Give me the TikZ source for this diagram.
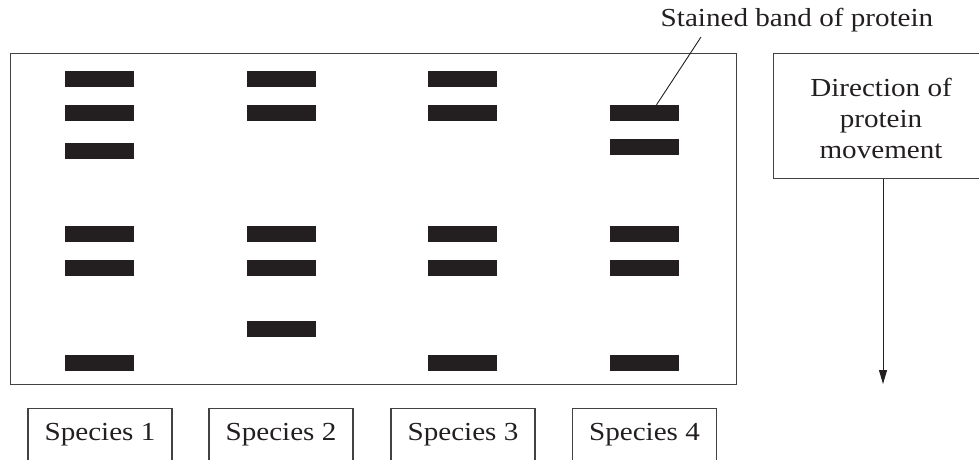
\documentclass[tikz,border=0pt]{standalone}
\usepackage{fontspec}
\setmainfont{Liberation Serif}[FakeStretch=1.12]
\usetikzlibrary{arrows.meta}
\definecolor{ink}{HTML}{231F20}
\begin{document}
\begin{tikzpicture}[x=1pt,y=-1pt,
  frame/.style={draw=ink!85,line width=1.1pt},
  band/.style={fill=ink,draw=none,minimum width=69pt,minimum height=16pt,inner sep=0pt},
  lbl/.style={font=\fontsize{26}{32}\selectfont,text=ink,inner sep=0pt},
  spbox/.style={frame,minimum width=144pt,minimum height=60pt,anchor=north,inner sep=0pt}]
\useasboundingbox (0,0) rectangle (979,459);
% gel slab
\node[frame,minimum width=726pt,minimum height=331pt,inner sep=0pt,anchor=north west] (gel) at (9.5,52.5) {};
% lane 1
\node[band] (a1) at (99.5,79) {};
\node[band] (a2) at (99.5,113) {};
\node[band] (a3) at (99.5,151) {};
\node[band] (a4) at (99.5,234) {};
\node[band] (a5) at (99.5,268) {};
\node[band] (a6) at (99.5,363) {};
% lane 2
\node[band] (b1) at (281.5,79) {};
\node[band] (b2) at (281.5,113) {};
\node[band] (b4) at (281.5,234) {};
\node[band] (b5) at (281.5,268) {};
\node[band] (b6) at (281.5,329) {};
% lane 3
\node[band] (c1) at (462.5,79) {};
\node[band] (c2) at (462.5,113) {};
\node[band] (c4) at (462.5,234) {};
\node[band] (c5) at (462.5,268) {};
\node[band] (c6) at (462.5,363) {};
% lane 4
\node[band] (d2) at (644.5,113) {};
\node[band] (d3) at (644.5,147) {};
\node[band] (d4) at (644.5,234) {};
\node[band] (d5) at (644.5,268) {};
\node[band] (d6) at (644.5,363) {};
% label and leader
\node[lbl] (stain) at (797,20) {Stained band of protein};
\coordinate (lead) at (701,37);
\draw[ink,line width=0.9pt] (lead) -- ([xshift=12pt]d2.north);
% direction box and arrow
\node[frame,minimum width=218pt,minimum height=125pt,anchor=north west,inner sep=0pt] (dir) at (772.5,52.5) {};
\node[lbl,align=center] (dirtxt) at (881,118) {Direction of\\[-1pt]protein\\[-1pt]movement};
\coordinate (tip) at (883,384);
\draw[ink,line width=1pt,-{Triangle[length=14pt,width=8pt]}] (dir.south -| tip) -- (tip);
% species labels
\node[spbox] (s1) at (100,407.5) {};
\node[spbox] (s2) at (281,407.5) {};
\node[spbox] (s3) at (463,407.5) {};
\node[spbox] (s4) at (644.5,407.5) {};
\node[lbl] at (100,435) {Species 1};
\node[lbl] at (281,435) {Species 2};
\node[lbl] at (463,435) {Species 3};
\node[lbl] at (644.5,435) {Species 4};
\end{tikzpicture}
\end{document}
